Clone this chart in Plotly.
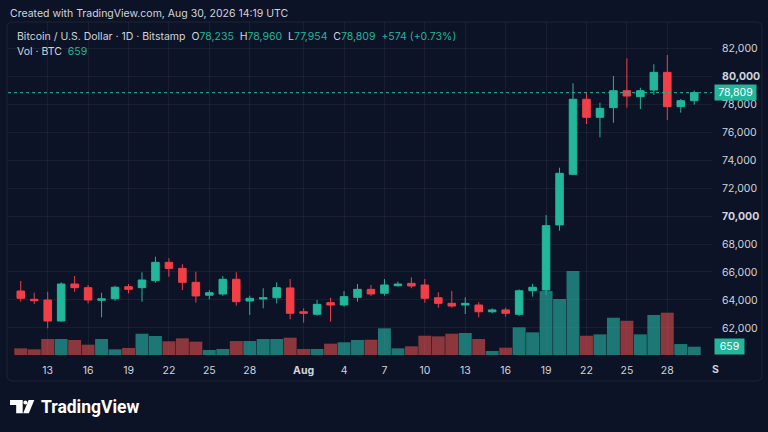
import pandas as pd
import plotly.graph_objects as go

# daily BTC/USD candles, Bitstamp, 11 Jul - 30 Aug 2026
dates = pd.date_range("2026-07-11", "2026-08-30", freq="D")

opens = [64640, 64050, 64000, 62500, 65140, 64880, 63980, 64090, 64950, 64880,
         65380, 66690, 66260, 65260, 64340, 64430, 65480, 63930, 64070, 64160,
         64860, 63160, 62980, 63810, 63640, 64190, 64760, 64480, 65020, 65190,
         65070, 64160, 63760, 63640, 63640, 63160, 63290, 62980, 64660, 64710,
         69360, 72980, 78340, 77050, 77740, 78950, 78520, 79000, 80260, 77810,
         78235]
highs = [65360, 64520, 64590, 65260, 65710, 65070, 64520, 65020, 65140, 65980,
         67090, 66980, 66550, 66020, 64710, 65710, 65980, 64310, 64840, 65260,
         65500, 63410, 64000, 64160, 64640, 65140, 65070, 65500, 65310, 65620,
         65500, 64550, 64640, 64190, 63840, 63410, 63450, 64760, 65140, 70070,
         73450, 79480, 78840, 78090, 80000, 81260, 79160, 80840, 81500, 78360,
         78960]
lows = [63880, 63710, 61980, 62450, 64590, 63760, 62760, 63950, 64480, 63880,
        65240, 65660, 64710, 63810, 64050, 64290, 63590, 62930, 63410, 63760,
        62620, 62380, 62880, 62450, 63520, 63880, 64290, 64310, 64950, 64840,
        63810, 63450, 63450, 63000, 62760, 63050, 62810, 62860, 64240, 64360,
        68950, 72930, 76570, 75620, 76660, 77740, 77640, 78640, 76860, 77380,
        77954]
closes = [64120, 63950, 62500, 65140, 64880, 64000, 64080, 64910, 64760, 65430,
          66690, 66260, 65260, 64290, 64520, 65480, 63880, 64120, 64160, 64880,
          63050, 63050, 63690, 63640, 64240, 64760, 64430, 65070, 65140, 65000,
          64120, 63760, 63570, 63760, 63160, 63290, 63050, 64660, 64910, 69310,
          73050, 78340, 77050, 77690, 78950, 78570, 78950, 80260, 77810, 78235,
          78809]
volumes = [530, 450, 1270, 1270, 1190, 820, 1270, 450, 560, 1690,
           1510, 1090, 1325, 1060, 400, 480, 1110, 1110, 1270, 1270,
           1375, 480, 480, 900, 1010, 1190, 1215, 2120, 530, 690,
           1530, 1480, 1690, 1750, 1270, 320, 580, 2200, 1800, 5080,
           4450, 6670, 1530, 1640, 2960, 2720, 1640, 3180, 3360, 870,
           659]

price_ticks = [62000, 64000, 66000, 68000, 70000, 72000, 74000, 76000, 78000, 80000, 82000]
date_ticks = ["2026-07-13", "2026-07-16", "2026-07-19", "2026-07-22", "2026-07-25", "2026-07-28",
              "2026-08-01", "2026-08-04", "2026-08-07", "2026-08-10", "2026-08-13", "2026-08-16",
              "2026-08-19", "2026-08-22", "2026-08-25", "2026-08-28"]
date_labels = ["13", "16", "19", "22", "25", "28", "<b>Aug</b>", "4", "7", "10", "13", "16",
               "19", "22", "25", "28"]

UP = "#22b69b"
DOWN = "#f23f47"
BG = "#0c1326"
TXT = "#d1d4dc"
FONT = "Inter, Roboto, sans-serif"

W, H = 768, 432
ML, MR, MT, MB = 8, 56, 22, 77


def px(x):
    return (x - ML) / (W - ML - MR)


def py(y):
    return (H - MB - y) / (H - MT - MB)


vol_colors = ["rgba(38,166,154,0.68)" if c >= o else "rgba(239,83,80,0.56)"
              for o, c in zip(opens, closes)]

fig = go.Figure()

fig.add_trace(go.Candlestick(
    x=dates, open=opens, high=highs, low=lows, close=closes,
    increasing=dict(line=dict(color=UP, width=1), fillcolor=UP),
    decreasing=dict(line=dict(color=DOWN, width=1), fillcolor=DOWN),
    whiskerwidth=0, hoverinfo="skip", showlegend=False))

fig.add_trace(go.Bar(
    x=dates, y=volumes, yaxis="y2", marker=dict(color=vol_colors, line=dict(width=0)),
    hoverinfo="skip", showlegend=False))

last = closes[-1]
o, h, l = opens[-1], highs[-1], lows[-1]
chg = last - closes[-2]
pct = chg / closes[-2] * 100

# last price dotted line
fig.add_shape(type="line", xref="paper", yref="y", x0=0, x1=1, y0=last, y1=last,
              line=dict(color=UP, width=1, dash="dot"))

# panel border
r = 6
x0, x1, y0, y1 = 7, 762, 22, 381
path = ("M {a},{b} L {c},{b} Q {d},{b} {d},{e} L {d},{f} Q {d},{g} {c},{g} "
        "L {a},{g} Q {h},{g} {h},{f} L {h},{e} Q {h},{b} {a},{b} Z").format(
    a=px(x0 + r), b=py(y0), c=px(x1 - r), d=px(x1), e=py(y0 + r),
    f=py(y1 - r), g=py(y1), h=px(x0))
fig.add_shape(type="path", xref="paper", yref="paper", path=path,
              line=dict(color="rgba(255,255,255,0.07)", width=1), layer="below")

# logo glyph
logo_paths = [
    [(10, 400), (22.7, 400), (22.7, 413.3), (16.2, 413.3), (16.2, 405), (10, 405)],
    [(28.6, 400), (34.3, 400), (28.8, 413.3), (23.2, 413.3)],
]
for pts in logo_paths:
    p = "M " + " L ".join("{},{}".format(px(a), py(b)) for a, b in pts) + " Z"
    fig.add_shape(type="path", xref="paper", yref="paper", path=p,
                  fillcolor="white", line=dict(width=0))
fig.add_shape(type="circle", xref="paper", yref="paper",
              x0=px(23.4), x1=px(27.4), y0=py(400.6), y1=py(404.6),
              fillcolor="white", line=dict(width=0))

g = "<span style='color:%s'>" % UP
legend1 = ("Bitcoin / U.S. Dollar · 1D · Bitstamp  O" + g + "{:,}</span>  H" + g + "{:,}</span>  L"
           + g + "{:,}</span>  C" + g + "{:,}</span>  " + g + "+{:,} (+{:.2f}%)</span>").format(
    o, h, l, last, chg, pct)
legend2 = "Vol · BTC  " + g + "{:,}</span>".format(volumes[-1])

annos = [
    dict(text="Created with TradingView.com, Aug 30, 2026 14:19 UTC", x=px(8), y=py(13),
         font=dict(size=10.5, color=TXT)),
    dict(text=legend1, x=px(15), y=py(36), font=dict(size=10.5, color=TXT)),
    dict(text=legend2, x=px(15), y=py(52), font=dict(size=10.5, color=TXT)),
    dict(text="S", x=px(710), y=py(369), font=dict(size=10.5, color=TXT, weight="bold")),
    dict(text="TradingView", x=px(39), y=py(407), font=dict(size=17.5, color="white",
                                                            family="Roboto", weight="bold")),
]
for a in annos:
    fig.add_annotation(xref="paper", yref="paper", xanchor="left", yanchor="middle",
                       showarrow=False, **a)

fig.add_annotation(xref="paper", yref="y", x=px(714), y=last, xanchor="left", yanchor="middle",
                   text="{:,}".format(last), showarrow=False, bgcolor=UP, width=37, height=11,
                   borderpad=2, font=dict(size=10.5, color="white"))
fig.add_annotation(xref="paper", yref="y2", x=px(714), y=volumes[-1], xanchor="left",
                   yanchor="middle", text="{:,}".format(volumes[-1]), showarrow=False,
                   bgcolor=UP, width=25, height=11, borderpad=2,
                   font=dict(size=10.5, color="white"))

price_labels = ["<b>{:,}</b>".format(v) if v % 10000 == 0 else "{:,}".format(v) for v in price_ticks]

fig.update_layout(
    width=W, height=H,
    margin=dict(l=ML, r=MR, t=MT, b=MB),
    paper_bgcolor=BG, plot_bgcolor=BG,
    font=dict(family=FONT, color=TXT, size=10.5),
    showlegend=False, bargap=0.04, boxgap=0.2, hovermode=False,
    xaxis=dict(type="date", range=["2026-07-10 01:16", "2026-08-31 07:39"],
               rangeslider=dict(visible=False), tickvals=date_ticks, ticktext=date_labels,
               showgrid=True, gridcolor="rgba(255,255,255,0.055)", zeroline=False,
               ticks="outside", ticklen=5, tickcolor=BG, showline=False, fixedrange=True),
    yaxis=dict(side="right", range=[60071, 83857], tickvals=price_ticks, ticktext=price_labels,
               showgrid=True, gridcolor="rgba(255,255,255,0.055)", zeroline=False,
               ticks="outside", ticklen=7, tickcolor=BG, showline=False, fixedrange=True),
    yaxis2=dict(overlaying="y", range=[0, 26450], visible=False, fixedrange=True),
)

# page body margin would shift the 768x432 figure
fig.write_html("out.html", config={"displayModeBar": False},
               post_script="document.body.style.margin='0';")
